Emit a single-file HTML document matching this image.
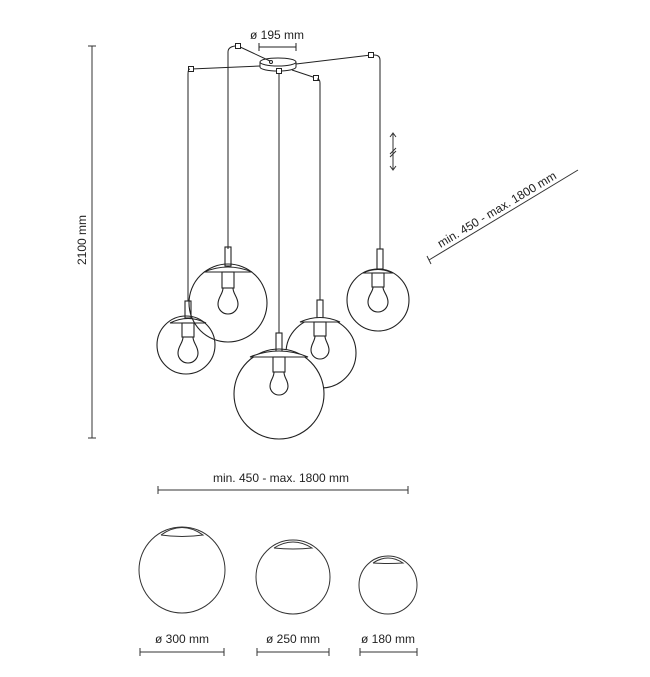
<!DOCTYPE html>
<html><head><meta charset="utf-8"><style>
html,body{margin:0;padding:0;background:#fff;}
svg{display:block;}
text{font-family:"Liberation Sans",sans-serif;fill:#222;}
</style></head><body>
<svg width="650" height="677" viewBox="0 0 650 677" xmlns="http://www.w3.org/2000/svg">
<g stroke="#222" fill="none" stroke-width="1">
<line x1="259" y1="47" x2="296" y2="47"/><line x1="259" y1="43" x2="259" y2="51"/><line x1="296" y1="43" x2="296" y2="51"/>
<path d="M260 62 A18 4 0 0 1 296 62 L296 67 A18 4 0 0 1 260 67 Z" fill="#fff"/>
<path d="M260 62 A18 4 0 0 0 296 62"/>
<circle cx="271" cy="62" r="1.5"/>
<line x1="238" y1="46" x2="270" y2="61"/>
<line x1="191" y1="69" x2="260" y2="66"/>
<line x1="371" y1="55" x2="296" y2="64"/>
<line x1="316" y1="78" x2="292" y2="70"/>
<rect x="235.5" y="43.5" width="5" height="5" fill="#fff"/>
<rect x="188.5" y="66.5" width="5" height="5" fill="#fff"/>
<rect x="368.5" y="52.5" width="5" height="5" fill="#fff"/>
<rect x="313.5" y="75.5" width="5" height="5" fill="#fff"/>
<rect x="276.5" y="68.5" width="5" height="5" fill="#fff"/>
<path d="M188 301 V74 Q188 69 190 69"/>
<path d="M228 249 V52 Q228 47 235 46"/>
<path d="M279 333 V74"/>
<path d="M320 300 V83 Q320 79 317 79"/>
<path d="M380 249 V60 Q380 55 374 55"/>
</g>
<g stroke="#222" fill="none" stroke-width="1.1">
<circle cx="186" cy="345" r="29"/>
<rect x="185" y="301" width="6" height="17"/>
<path d="M170 323 Q188 314 206 323 Z" fill="#fff"/>
<rect x="182" y="323" width="12" height="14"/>
<path d="M183 337 C183 343 178 346 178 353 A10 10 0 0 0 198 353 C198 346 193 343 193 337"/>
<circle cx="228" cy="303" r="39"/>
<rect x="225" y="247" width="6" height="19"/>
<path d="M204 272 Q228 262 252 272 Z" fill="#fff"/>
<rect x="222" y="272" width="12" height="16"/>
<path d="M223 288 C223 294 218 297 218 304 A10 10 0 0 0 238 304 C238 297 233 294 233 288"/>
<circle cx="321" cy="353" r="35"/>
<rect x="317" y="300" width="6" height="19"/>
<path d="M300 322 Q320 313 340 322 Z" fill="#fff"/>
<rect x="314" y="322" width="12" height="14"/>
<path d="M315 336 C315 341 311 344 311 350 A9 9 0 0 0 329 350 C329 344 325 341 325 336"/>
<circle cx="279" cy="394" r="45" fill="#fff"/>
<rect x="276" y="333" width="6" height="20"/>
<path d="M250 357 Q279 345 308 357 Z" fill="#fff"/>
<rect x="273" y="357" width="12" height="15"/>
<path d="M274 372 C274 378 270 380 270 386 A9 9 0 0 0 288 386 C288 380 284 378 284 372"/>
<circle cx="378" cy="300" r="31"/>
<rect x="377" y="249" width="6" height="20"/>
<path d="M363 273 Q378 266 393 273 Z" fill="#fff"/>
<rect x="372" y="273" width="12" height="14"/>
<path d="M373 287 C373 292 368 295 368 302 A10 10 0 0 0 388 302 C388 295 383 292 383 287"/>
</g>
<g stroke="#333" fill="none" stroke-width="1">
<line x1="92" y1="46" x2="92" y2="438"/><line x1="88" y1="46" x2="96" y2="46"/><line x1="88" y1="438" x2="96" y2="438"/>
<line x1="393" y1="134" x2="393" y2="169"/>
<path d="M390 137 L393 133 L396 137 M390 166 L393 170 L396 166"/>
<path d="M390 154 L396 148 M390 157 L396 151"/>
<line x1="429" y1="260" x2="578" y2="170"/><line x1="427" y1="256" x2="431" y2="264"/>
<line x1="158" y1="490" x2="408" y2="490"/><line x1="158" y1="486" x2="158" y2="494"/><line x1="408" y1="486" x2="408" y2="494"/>
<circle cx="182" cy="570" r="43"/>
<path d="M161 535 Q182 520 203 535 Q182 538 161 535"/>
<circle cx="293" cy="577" r="37"/>
<path d="M274 548 Q293 536 312 548 Q293 550 274 548"/>
<circle cx="388" cy="585" r="29"/>
<path d="M373 563 Q388 553 403 563 Q388 564 373 563"/>
<line x1="140" y1="652" x2="224" y2="652"/><line x1="140" y1="648" x2="140" y2="656"/><line x1="224" y1="648" x2="224" y2="656"/>
<line x1="257" y1="652" x2="329" y2="652"/><line x1="257" y1="648" x2="257" y2="656"/><line x1="329" y1="648" x2="329" y2="656"/>
<line x1="360" y1="652" x2="417" y2="652"/><line x1="360" y1="648" x2="360" y2="656"/><line x1="417" y1="648" x2="417" y2="656"/>
</g>
<text x="277" y="39" font-size="12" text-anchor="middle">ø 195 mm</text>
<text transform="translate(86,240) rotate(-90)" font-size="12" text-anchor="middle">2100 mm</text>
<text transform="translate(499,213) rotate(-31)" font-size="12" text-anchor="middle">min. 450 - max. 1800 mm</text>
<text x="281" y="482" font-size="12" text-anchor="middle">min. 450 - max. 1800 mm</text>
<text x="182" y="643" font-size="12" text-anchor="middle">ø 300 mm</text>
<text x="293" y="643" font-size="12" text-anchor="middle">ø 250 mm</text>
<text x="388" y="643" font-size="12" text-anchor="middle">ø 180 mm</text>
</svg>
</body></html>
